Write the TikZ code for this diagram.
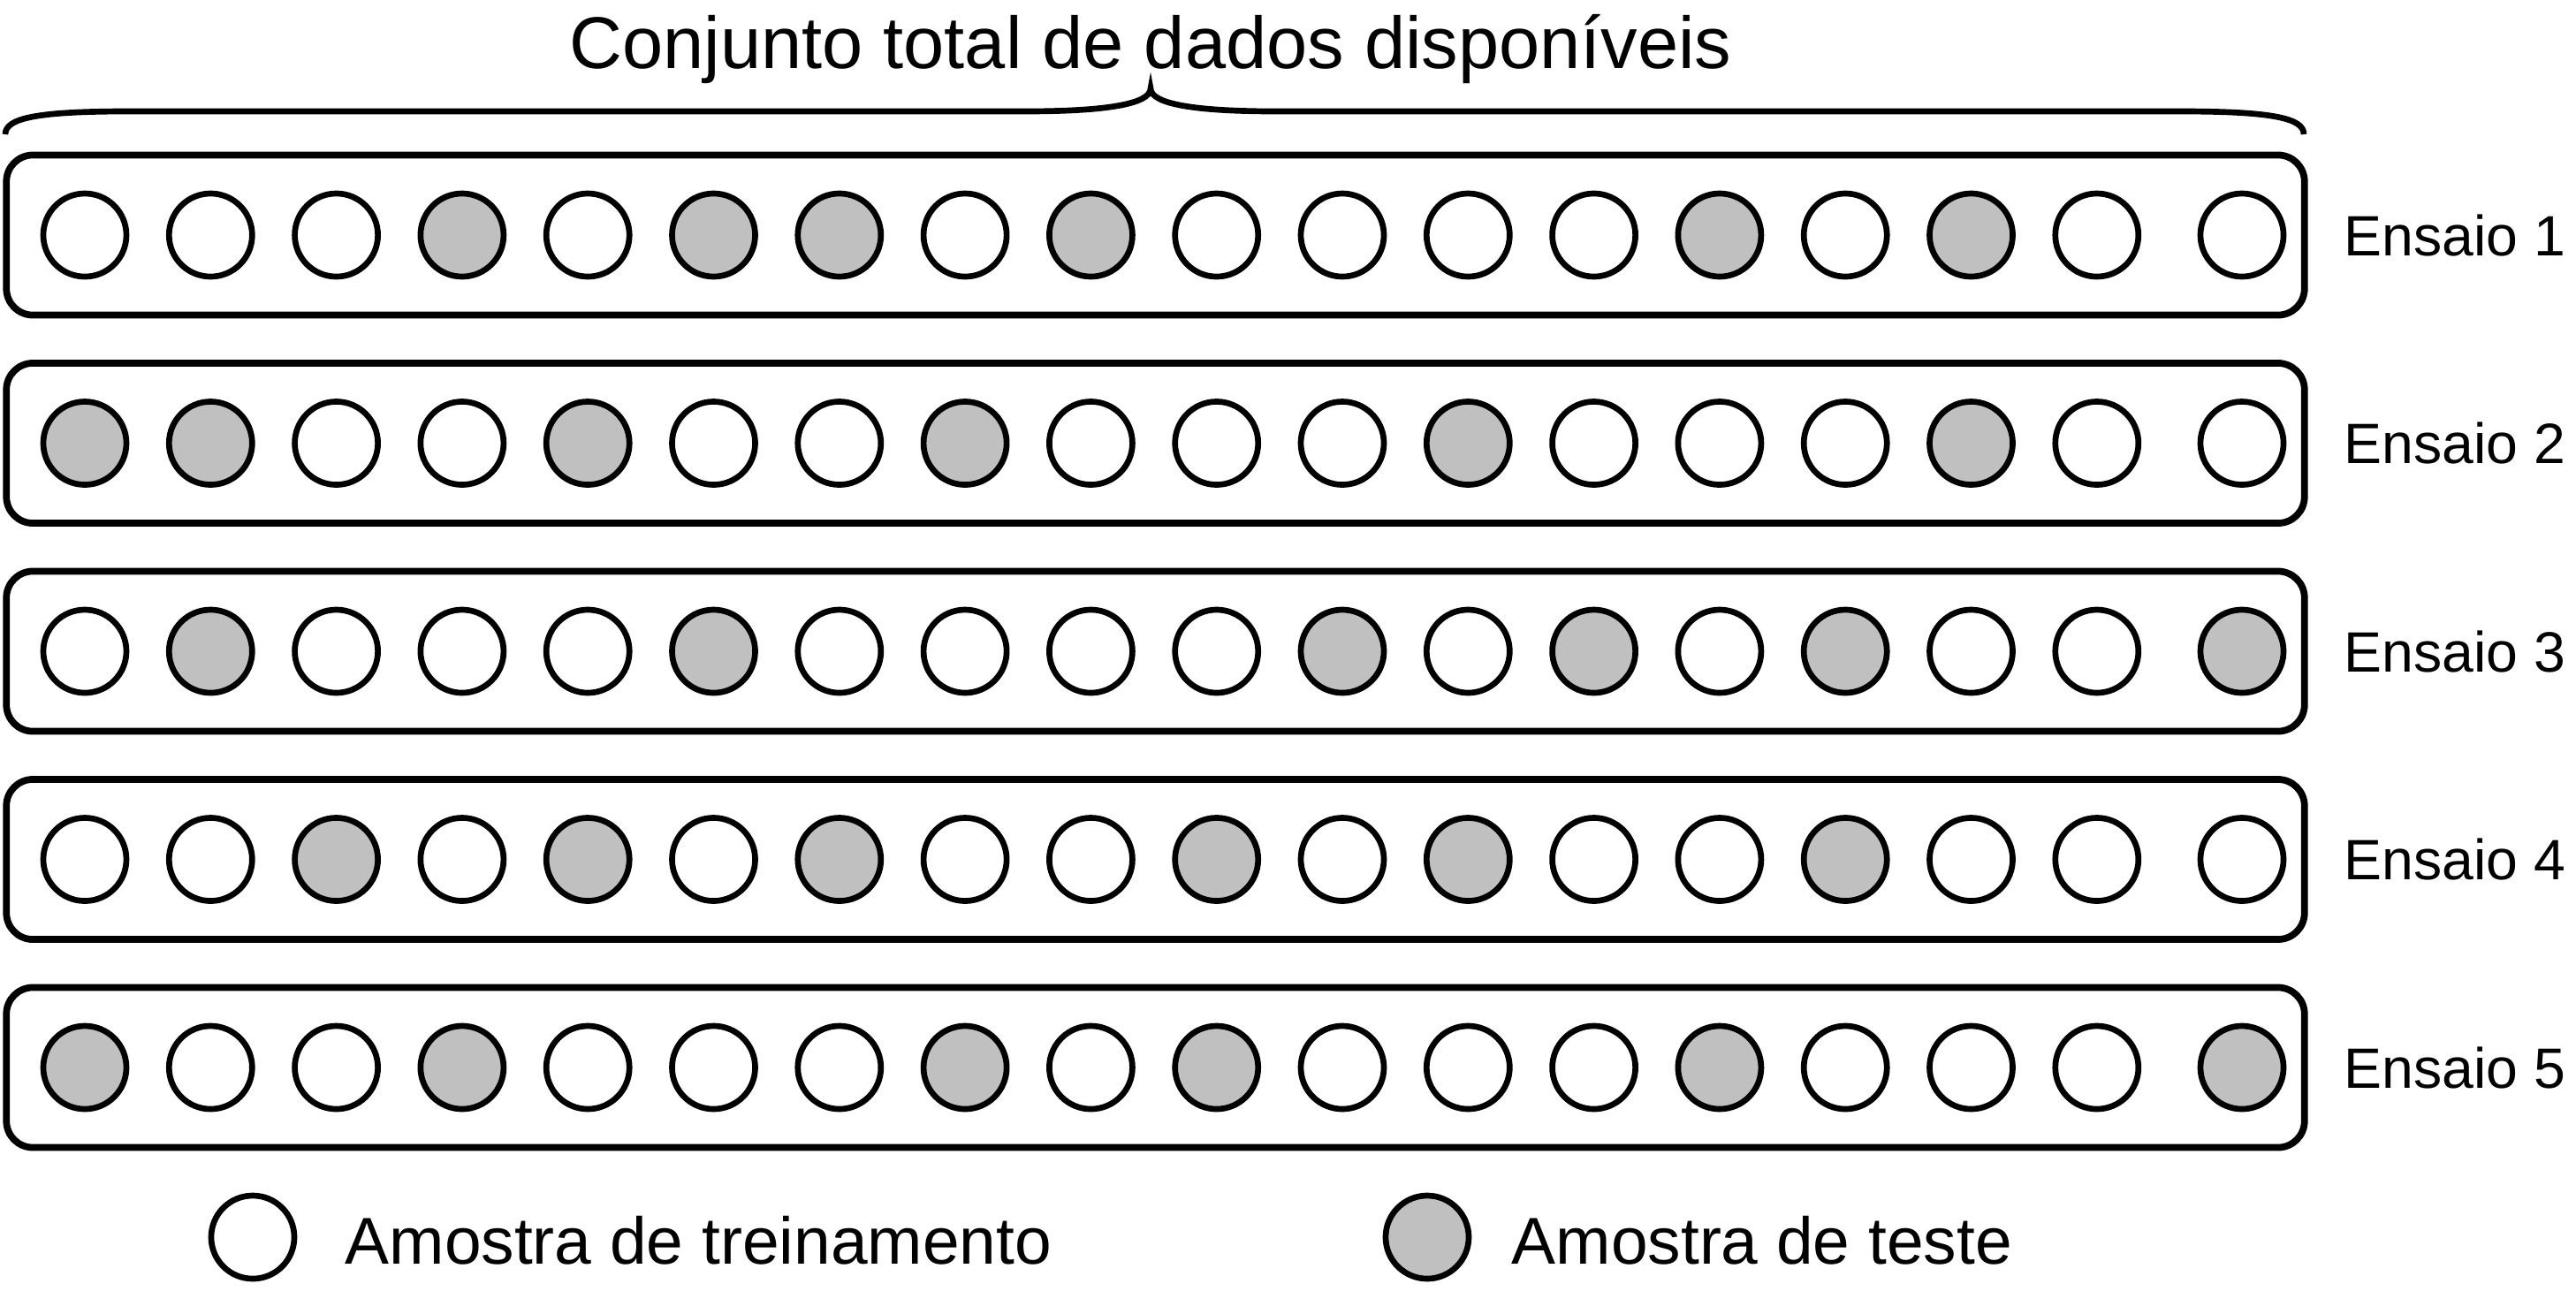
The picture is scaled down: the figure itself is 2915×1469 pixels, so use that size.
\documentclass[tikz,border=0pt]{standalone}
\usepackage{fontspec}
\setmainfont{Liberation Sans}
\definecolor{testgray}{RGB}{192,192,192}
\tikzset{
  sample/.style={circle,draw,line width=1.9pt,minimum size=0.94cm,inner sep=0pt},
  cls0/.style={sample,fill=white},
  cls1/.style={sample,fill=testgray},
  trial/.style={draw,line width=2.2pt,rounded corners=0.3cm,minimum width=25.99cm,
                minimum height=1.81cm,inner sep=0pt},
  trialname/.style={anchor=west,inner sep=0pt,font=\fontsize{18.3}{22}\selectfont},
  legendname/.style={anchor=base west,inner sep=0pt,font=\fontsize{21.3}{25}\selectfont}
}

\begin{document}
\begin{tikzpicture}[x=0.01cm,y=-0.01cm]
  \useasboundingbox (0,0) rectangle (2915,1469);
  \node[anchor=base,inner sep=0pt,font=\fontsize{23.6}{28}\selectfont] (title) at (1302,77)
       {Conjunto total de dados disponíveis};
  % brace over all rows
  \coordinate (bl) at (6,152);
  \coordinate (bt) at (1302,100);
  \coordinate (br) at (2607,152);
  \draw[line width=1.9pt]
    (bl) .. controls (6,134) and (40,126) .. (145,126) -- (1160,126)
         .. controls (1250,126) and (1302,118) .. (bt)
         .. controls (1302,118) and (1354,126) .. (1444,126) -- (2467,126)
         .. controls (2573,126) and (2607,134) .. (br);
  % one box per trial, 1 = test sample
  \foreach \r/\pat in {1/{0,0,0,1,0,1,1,0,1,0,0,0,0,1,0,1,0,0},
                       2/{1,1,0,0,1,0,0,1,0,0,0,1,0,0,0,1,0,0},
                       3/{0,1,0,0,0,1,0,0,0,0,1,0,1,0,1,0,0,1},
                       4/{0,0,1,0,1,0,1,0,0,1,0,1,0,0,1,0,0,0},
                       5/{1,0,0,1,0,0,0,1,0,1,0,0,0,1,0,0,0,1}}{
    \pgfmathsetmacro{\ry}{266+235.5*(\r-1)}
    \node[trial] (trial\r) at (1307.5,\ry) {};
    \foreach \c [count=\i] in \pat {
      \pgfmathsetmacro{\cx}{ifthenelse(\i<18,96+142.3*(\i-1),2537)}
      \node[cls\c] (s\r-\i) at (\cx,\ry) {};
    }
    \node[trialname] (lab\r) at (2652,\ry) {Ensaio \r};
  }
  % legend
  \node[cls0] (leg0) at (286,1400) {};
  \node[legendname] (legtxt0) at (390,1430) {Amostra de treinamento};
  \node[cls1] (leg1) at (1615,1400) {};
  \node[legendname] (legtxt1) at (1710,1430) {Amostra de teste};
\end{tikzpicture}
\end{document}
